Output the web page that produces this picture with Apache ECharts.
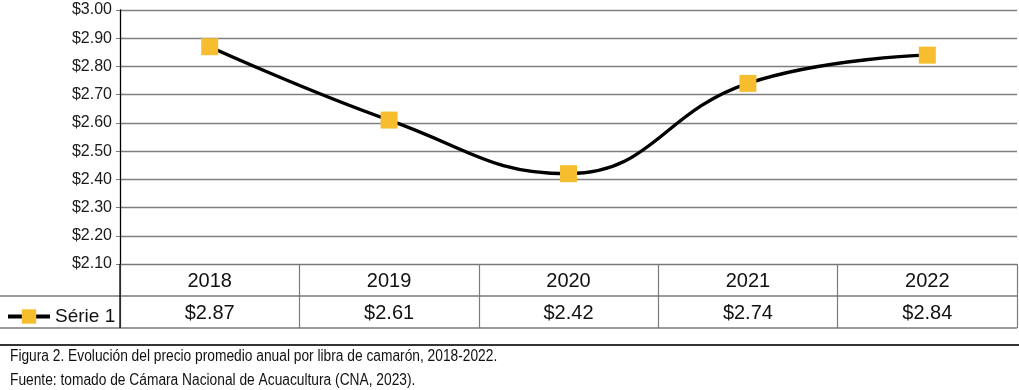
<!DOCTYPE html>
<html><head><meta charset="utf-8">
<script src="https://cdn.jsdelivr.net/npm/echarts@6/dist/echarts.min.js"></script>
<style>html,body{margin:0;padding:0;background:#fff}#c{width:1019px;height:390px}</style>
</head><body><div id="c"></div>
<script>
const categories = ['2018', '2019', '2020', '2021', '2022'];
const values = [2.87, 2.61, 2.42, 2.74, 2.84];
const seriesName = 'Série 1';
const captionLines = [
  'Figura 2. Evolución del precio promedio anual por libra de camarón, 2018-2022.',
  'Fuente: tomado de Cámara Nacional de Acuacultura (CNA, 2023).'
];
const yMin = 2.1, yMax = 3.0, yStep = 0.1;

const W = 1019;
const gridLeft = 120, gridRight = 2, gridTop = 10, gridBottomY = 264;
const rowH = 32;
const fontMain = 'Liberation Sans, Arial, Helvetica, sans-serif';
const money = v => '$' + Number(v).toFixed(2);

const chart = echarts.init(document.getElementById('c'), null, {renderer: 'canvas'});
chart.setOption({
  animation: false,
  backgroundColor: '#fff',
  grid: {left: gridLeft, right: gridRight, top: gridTop, bottom: 390 - gridBottomY, containLabel: false},
  legend: {
    data: [seriesName], left: 1, top: gridBottomY + rowH + 6, itemWidth: 42, itemHeight: 18,
    lineStyle: {width: 4, color: '#000'},
    textStyle: {fontFamily: fontMain, fontSize: 19, color: '#111'}
  },
  xAxis: [{
    type: 'category', data: categories, boundaryGap: true,
    axisLine: {show: true, lineStyle: {color: '#777', width: 1.2}},
    axisTick: {show: true, length: rowH * 2, lineStyle: {color: '#7a7a7a', width: 1.2}},
    axisLabel: {fontFamily: fontMain, fontSize: 20, color: '#111', margin: 7},
    splitLine: {show: false}
  }, {
    type: 'category', data: categories, boundaryGap: true, position: 'bottom', offset: rowH,
    axisLine: {show: false}, axisTick: {show: false},
    axisLabel: {fontFamily: fontMain, fontSize: 20, color: '#111', margin: 7,
      formatter: (v, i) => money(values[i])}
  }],
  yAxis: {
    type: 'value', min: yMin, max: yMax, interval: yStep,
    axisLine: {show: true, lineStyle: {color: '#000', width: 1.3}},
    axisTick: {show: true, length: 4, lineStyle: {color: '#777'}},
    axisLabel: {fontFamily: fontMain, fontSize: 16, color: '#1a1a1a', margin: 8, formatter: v => money(v)},
    splitLine: {show: true, lineStyle: {color: '#7f7f7f', width: 1.3}}
  },
  series: [{
    name: seriesName, type: 'line', data: values, xAxisIndex: 0,
    smooth: 0.45, symbol: 'rect', symbolSize: 17,
    lineStyle: {color: '#000', width: 3.4},
    itemStyle: {color: '#F6BE2E'},
    z: 3
  }],
  graphic: [
    {type: 'line', z: 100, shape: {x1: 0, y1: gridBottomY + rowH, x2: W - gridRight, y2: gridBottomY + rowH}, style: {stroke: '#7a7a7a', lineWidth: 1.3}},
    {type: 'line', z: 100, shape: {x1: 0, y1: gridBottomY + rowH * 2, x2: W - gridRight, y2: gridBottomY + rowH * 2}, style: {stroke: '#7a7a7a', lineWidth: 1.3}},
    {type: 'line', z: 101, shape: {x1: gridLeft, y1: gridBottomY, x2: gridLeft, y2: gridBottomY + rowH * 2}, style: {stroke: '#000', lineWidth: 1.3}},
    {type: 'line', z: 100, shape: {x1: 0, y1: 345, x2: W, y2: 345}, style: {stroke: '#333', lineWidth: 2}},
    {type: 'text', x: 10, y: 349, scaleX: 0.86, style: {text: captionLines[0], font: '16px "Liberation Sans", Arial, sans-serif', fill: '#111'}},
    {type: 'text', x: 10, y: 373, scaleX: 0.86, style: {text: captionLines[1], font: '16px "Liberation Sans", Arial, sans-serif', fill: '#111'}}
  ]
});
</script></body></html>
